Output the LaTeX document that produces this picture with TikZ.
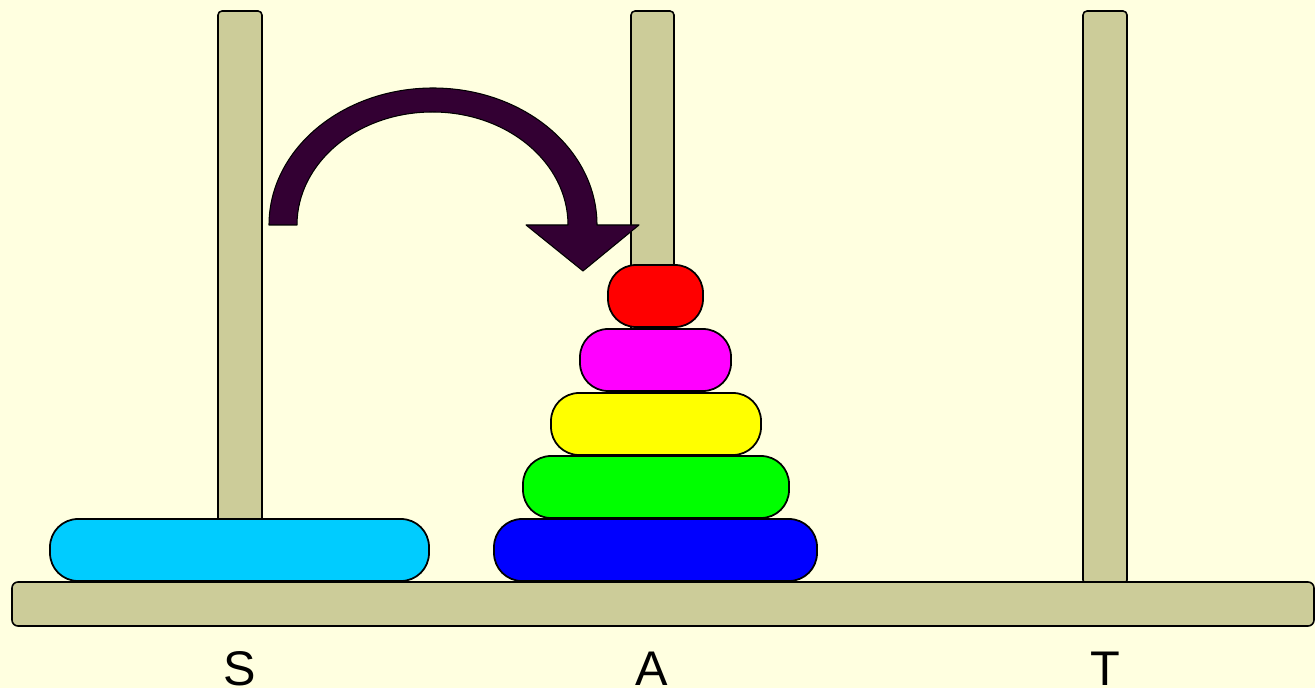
\documentclass[tikz,border=0pt]{standalone}
\usepackage{fontspec}
\setmainfont{Liberation Sans}
\definecolor{bgpaper}{RGB}{255,255,224}
\definecolor{pegwood}{RGB}{204,204,153}
\definecolor{movedark}{RGB}{51,0,51}
\definecolor{diskcyan}{RGB}{0,204,255}
\definecolor{diskblue}{RGB}{0,0,255}
\definecolor{diskgreen}{RGB}{0,255,0}
\definecolor{diskyellow}{RGB}{255,255,0}
\definecolor{diskmagenta}{RGB}{255,0,255}
\definecolor{diskred}{RGB}{255,0,0}
\begin{document}
\begin{tikzpicture}[x=0.02cm,y=-0.02cm,line cap=round,line join=round,
    peg/.style={draw=black,line width=0.9pt,fill=pegwood,rounded corners=0.08cm},
    disk/.style={draw=black,line width=1pt,rounded corners=0.56cm},
    pole label/.style={anchor=base,font=\fontsize{27.7}{30}\selectfont}]
  \useasboundingbox[fill=bgpaper] (0,0) rectangle (1315,688);

  % Three pegs and the base board.
  \draw[peg] (218,11) rectangle (262,584);
  \draw[peg] (631,11) rectangle (674,584);
  \draw[peg] (1083,11) rectangle (1127,584);
  \draw[peg,rounded corners=0.12cm] (12,582) rectangle (1314,626);

  % Largest disk left on S.
  \draw[disk,fill=diskcyan] (50,519) rectangle (429,581);

  % Tower on A, bottom to top.
  \foreach \l/\r/\t/\c in {494/817/519/diskblue, 523/789/456/diskgreen, 551/761/393/diskyellow,
                            580/731/329/diskmagenta, 608/703/265/diskred}
    \draw[disk,fill=\c] (\l,\t) rectangle (\r,\t+62);

  % Curved move arrow.
  \draw[draw=black,line width=0.6pt,fill=movedark]
    (269,225) arc[start angle=180,end angle=0,x radius=164,y radius=-137]
    -- (639,225) -- (583,271) -- (526,225) -- (568,225)
    arc[start angle=0,end angle=180,x radius=135.5,y radius=-113] -- cycle;

  \node[pole label] (labS) at (240,685) {S};
  \node[pole label] (labA) at (652,685) {A};
  \node[pole label] (labT) at (1105,685) {T};
\end{tikzpicture}
\end{document}
